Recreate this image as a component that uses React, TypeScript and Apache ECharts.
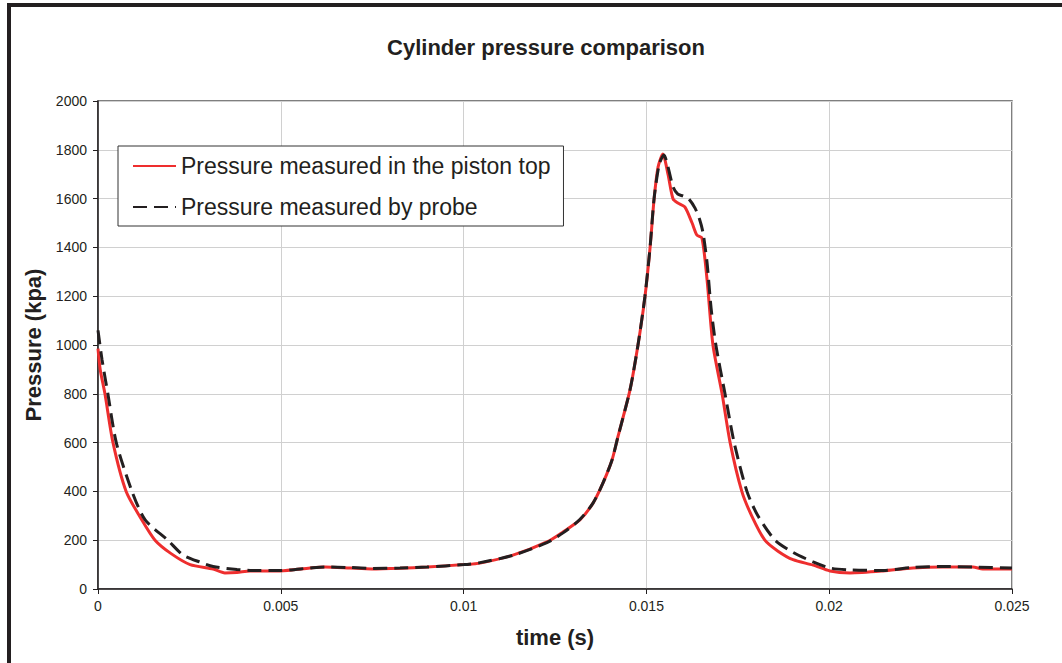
import React, { useEffect, useRef } from "react";
import * as echarts from "echarts";

const seriesNames = ["Pressure measured in the piston top", "Pressure measured by probe"];

const pistonTime = [0, 0.00006, 0.00019, 0.00041, 0.00077, 0.0012, 0.00156, 0.002, 0.00252, 0.00315, 0.00347, 0.0038, 0.00416, 0.00498, 0.0058, 0.00621, 0.00689, 0.00749, 0.00826, 0.009, 0.01001, 0.01045, 0.01135, 0.01228, 0.01272, 0.01318, 0.01354, 0.01381, 0.01406, 0.01422, 0.01455, 0.01477, 0.01496, 0.0151, 0.01521, 0.01532, 0.01545, 0.01559, 0.01573, 0.01586, 0.01605, 0.01625, 0.01638, 0.01652, 0.01666, 0.01682, 0.01707, 0.01729, 0.01761, 0.01788, 0.01824, 0.0186, 0.01901, 0.01956, 0.02002, 0.02057, 0.02147, 0.02229, 0.02311, 0.02393, 0.0242, 0.025];
const pistonPressure = [985, 900, 800, 600, 400, 283, 200, 145, 100, 82, 66, 68, 74, 74, 86, 90, 86, 82, 85, 90, 100, 106, 139, 193, 234, 283, 352, 434, 529, 623, 815, 1000, 1197, 1398, 1598, 1730, 1783, 1700, 1598, 1582, 1566, 1500, 1451, 1438, 1266, 1000, 800, 600, 400, 300, 200, 155, 120, 98, 74, 66, 74, 86, 90, 90, 82, 82];

const probeTime = [0, 0.00011, 0.00027, 0.0005, 0.00093, 0.00129, 0.00191, 0.00232, 0.00279, 0.00315, 0.0038, 0.00416, 0.00498, 0.0058, 0.00621, 0.00689, 0.00749, 0.00826, 0.009, 0.01001, 0.01045, 0.01135, 0.01228, 0.01272, 0.01318, 0.01354, 0.01381, 0.01406, 0.01422, 0.01455, 0.01477, 0.01496, 0.0151, 0.01521, 0.01535, 0.01548, 0.01559, 0.01573, 0.01586, 0.016, 0.01614, 0.01633, 0.01646, 0.01655, 0.01666, 0.01677, 0.0169, 0.01715, 0.0174, 0.01775, 0.01805, 0.01852, 0.01901, 0.01956, 0.02002, 0.02057, 0.02147, 0.02229, 0.02311, 0.02393, 0.025];
const probePressure = [1060, 940, 800, 600, 400, 283, 200, 140, 110, 92, 80, 76, 76, 86, 90, 88, 84, 86, 90, 100, 108, 138, 190, 230, 285, 352, 434, 529, 623, 815, 1000, 1200, 1400, 1600, 1740, 1779, 1730, 1648, 1618, 1611, 1602, 1561, 1512, 1459, 1336, 1150, 1000, 800, 600, 400, 300, 200, 150, 111, 86, 78, 76, 88, 92, 90, 86];

const xTickLabels = ["0", "0.005", "0.01", "0.015", "0.02", "0.025"];

const pairs = (t: number[], p: number[]) => t.map((v, i) => [v, p[i]]);

export default function App() {
  const ref = useRef<HTMLDivElement>(null);
  useEffect(() => {
    if (!ref.current) return;
    const chart = echarts.init(ref.current, null, { renderer: "svg" });
    const font = "'Liberation Sans', Arial, sans-serif";
    chart.setOption({
      animation: false,
      backgroundColor: "#ffffff",
      textStyle: { fontFamily: font },
      title: {
        text: "Cylinder pressure comparison",
        left: 541,
        top: 31,
        textAlign: "center",
        textStyle: { fontFamily: font, fontSize: 22, fontWeight: "bold", color: "#231f20" },
      },
      graphic: [
        { type: "rect", shape: { x: 7, y: 3, width: 1060, height: 4 }, style: { fill: "#231f20" } },
        { type: "rect", shape: { x: 7, y: 3, width: 4, height: 670 }, style: { fill: "#231f20" } },
      ],
      legend: {
        orient: "vertical",
        left: 118,
        top: 146,
        data: seriesNames,
        backgroundColor: "#ffffff",
        borderColor: "#333333",
        borderWidth: 1,
        padding: [8, 13, 7, 14],
        itemWidth: 43,
        itemHeight: 24,
        itemGap: 17,
        itemStyle: { opacity: 0 },
        textStyle: { fontFamily: font, fontSize: 23, color: "#231f20", lineHeight: 24 },
      },
      grid: {
        left: 98,
        top: 101,
        right: 50,
        bottom: 74,
        show: true,
        borderColor: "#555555",
        borderWidth: 1.5,
        backgroundColor: "transparent",
      },
      xAxis: {
        type: "value",
        min: 0,
        max: 0.025,
        interval: 0.005,
        name: "time (s)",
        nameLocation: "middle",
        nameGap: 37,
        nameTextStyle: { fontFamily: font, fontSize: 22, fontWeight: "bold", color: "#231f20" },
        axisLine: { show: true, onZero: false, lineStyle: { color: "#231f20", width: 1.5 } },
        axisTick: { show: true, inside: false, length: 5, lineStyle: { color: "#231f20" } },
        axisLabel: {
          margin: 10,
          fontSize: 14,
          color: "#231f20",
          fontFamily: font,
          formatter: (v: number) => xTickLabels[Math.round(v / 0.005)] ?? "",
        },
        splitLine: { show: true, lineStyle: { color: "#d0d0d0", width: 1 } },
      },
      yAxis: {
        type: "value",
        min: 0,
        max: 2000,
        interval: 200,
        name: "Pressure (kpa)",
        nameLocation: "middle",
        nameGap: 50,
        nameTextStyle: { fontFamily: font, fontSize: 22, fontWeight: "bold", color: "#231f20" },
        axisLine: { show: true, lineStyle: { color: "#231f20", width: 1.5 } },
        axisTick: { show: true, inside: false, length: 5, lineStyle: { color: "#231f20" } },
        axisLabel: {
          margin: 11,
          fontSize: 14,
          color: "#231f20",
          fontFamily: font,
          formatter: (v: number) => String(v),
        },
        splitLine: { show: true, lineStyle: { color: "#d0d0d0", width: 1 } },
      },
      series: [
        {
          name: seriesNames[0],
          type: "line",
          data: pairs(pistonTime, pistonPressure),
          showSymbol: false,
          symbol: "none",
          smooth: 0.25,
          lineStyle: { color: "#ee2e2e", width: 3 },
          itemStyle: { color: "#ee2e2e" },
          z: 2,
        },
        {
          name: seriesNames[1],
          type: "line",
          data: pairs(probeTime, probePressure),
          showSymbol: false,
          symbol: "none",
          smooth: 0.25,
          lineStyle: { color: "#231f20", width: 3, type: [14, 7] },
          itemStyle: { color: "#231f20" },
          z: 3,
        },
      ],
    });
    return () => chart.dispose();
  }, []);
  return (
    <div
      ref={ref}
      style={{ position: "fixed", left: 0, top: 0, width: 1062, height: 663 }}
    />
  );
}
